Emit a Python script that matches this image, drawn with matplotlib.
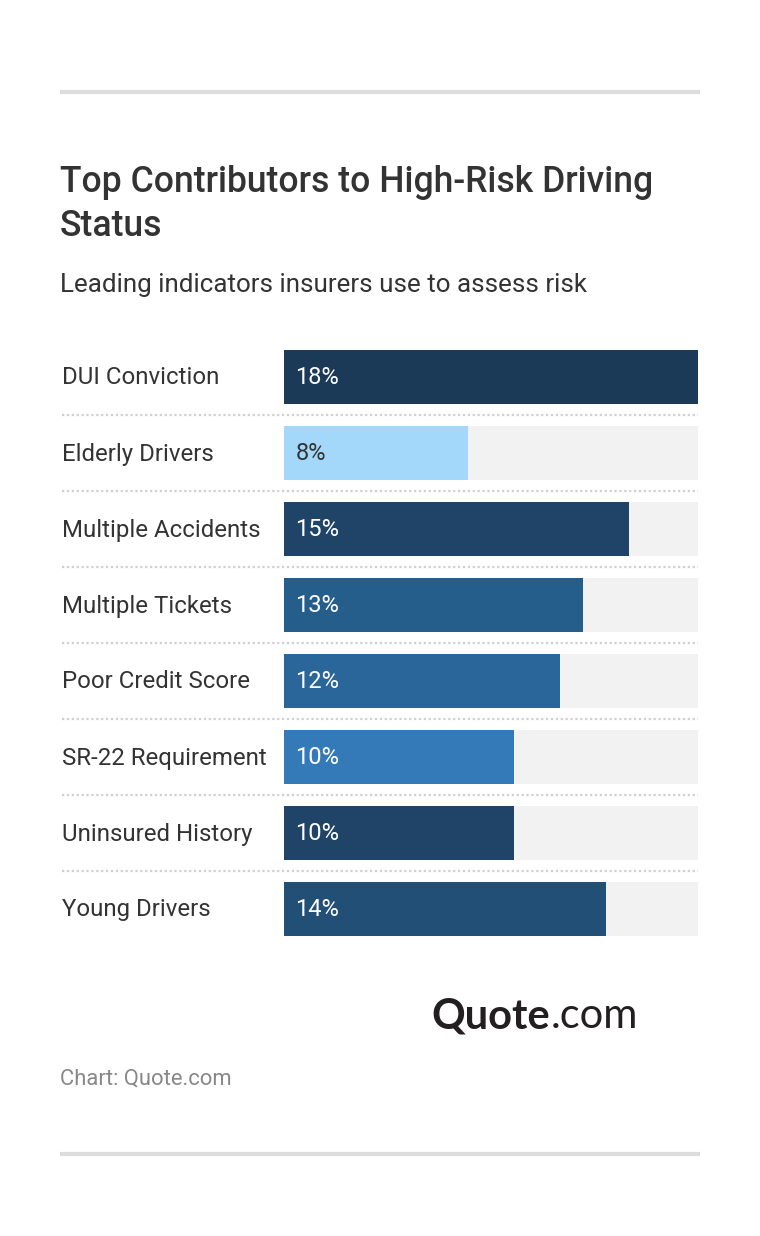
import matplotlib
matplotlib.use("Agg")
import matplotlib.pyplot as plt
import matplotlib.transforms as mtransforms

# data
categories = ["DUI Conviction", "Elderly Drivers", "Multiple Accidents", "Multiple Tickets",
              "Poor Credit Score", "SR-22 Requirement", "Uninsured History", "Young Drivers"]
values = [18, 8, 15, 13, 12, 10, 10, 14]
bar_colors = ["#1a3a57", "#a3d8fb", "#1f4468", "#265e8b", "#2a6699", "#357ab8", "#1f4468", "#224f76"]

title_lines = ["Top Contributors to High-Risk Driving", "Status"]
subtitle = "Leading indicators insurers use to assess risk"
source = "Chart: Quote.com"

W, H = 760, 1236
plt.rcParams['font.family'] = ['Roboto', 'DejaVu Sans']

fig = plt.figure(figsize=(W / 100, H / 100), dpi=100)
fig.patch.set_facecolor("white")


def fy(py):
    """pixel row from top -> figure fraction"""
    return 1 - py / H


def fx(px):
    return px / W


# top and bottom grey rules
for yy in (91.5, 1153.5):
    fig.add_artist(plt.Line2D([fx(60), fx(700)], [fy(yy), fy(yy)], color="#dddddd",
                              linewidth=3, solid_capstyle="butt"))

# title & subtitle
fig.text(fx(60), fy(192), title_lines[0], fontsize=25.6, color="#333333", weight="medium", va="baseline")
fig.text(fx(60), fy(236), title_lines[1], fontsize=25.6, color="#333333", weight="medium", va="baseline")
fig.text(fx(60), fy(292), subtitle, fontsize=18.7, color="#333333", va="baseline")

# bar area
top_px, step_px, bar_px = 350, 76, 54
n = len(categories)
ax_top = top_px
ax_bot = top_px + (n - 1) * step_px + bar_px
ax = fig.add_axes([fx(284), fy(ax_bot), fx(698) - fx(284), (ax_bot - ax_top) / H])
half = bar_px / step_px / 2
ax.set_ylim(n - 1 + half, -half)
ax.set_xlim(0, max(values))
ax.axis("off")

pos = list(range(n))
ax.barh(pos, [max(values)] * n, height=bar_px / step_px, color="#f2f2f2", left=0)
ax.barh(pos, values, height=bar_px / step_px, color=bar_colors, left=0)

trans = mtransforms.blended_transform_factory(fig.transFigure, ax.transData)
base_off = 7.5 / step_px
for i, (cat, v) in enumerate(zip(categories, values)):
    ax.text(fx(62), i + base_off, cat, transform=trans, fontsize=17.3, color="#333333",
            va="baseline", ha="left", clip_on=False)
    txt_col = "#333333" if v < 9 else "white"
    ax.text(0.5, i + base_off, f"{v}%", fontsize=17.0, color=txt_col, va="baseline", ha="left")
    if i < n - 1:
        ax.plot([fx(62), fx(698)], [i + 0.5, i + 0.5], transform=trans, color="#d0d0d0",
                linestyle=(0, (1, 1.2)), linewidth=1.6, clip_on=False)

# logo
fig.text(fx(550), fy(1028), "Quote", fontsize=30, weight="bold", color="#231f20",
         family=["Lato", "DejaVu Sans"], ha="right", va="baseline")
fig.text(fx(551), fy(1028), ".com", fontsize=30, color="#231f20",
         family=["Lato", "DejaVu Sans"], ha="left", va="baseline")

fig.text(fx(60), fy(1085), source, fontsize=15.8, color="#888888", va="baseline")

fig.savefig("out.png", dpi=100, facecolor="white")
